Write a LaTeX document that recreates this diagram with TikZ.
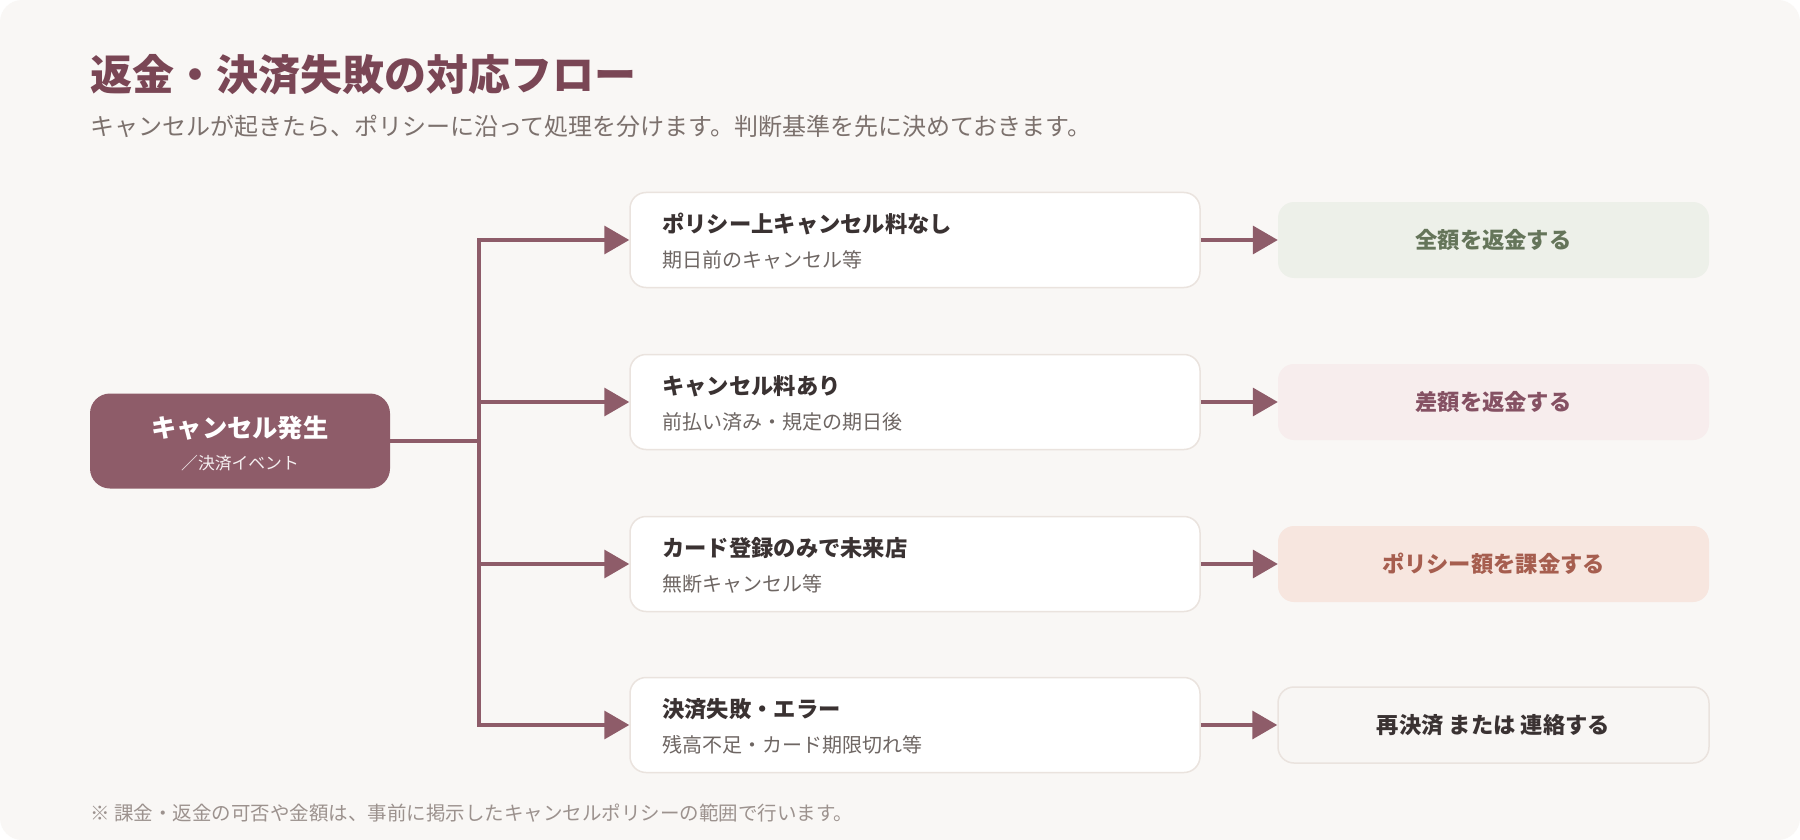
\documentclass[tikz,border=0pt]{standalone}
\usepackage{fontspec}
\setmainfont{Noto Sans CJK JP}
\newfontfamily\jp{Noto Sans CJK JP}
\usetikzlibrary{arrows.meta}
\definecolor{bgc}{HTML}{F9F7F5}
\definecolor{plum}{HTML}{8E5C69}
\definecolor{titlec}{HTML}{7A4655}
\definecolor{subc}{HTML}{7C716D}
\definecolor{notec}{HTML}{9C928E}
\definecolor{boxborder}{HTML}{EAE3DE}
\definecolor{darktxt}{HTML}{3A3232}
\definecolor{greytxt}{HTML}{6E6663}
\definecolor{greenfill}{HTML}{EDF0E9}
\definecolor{greentxt}{HTML}{65755A}
\definecolor{pinkfill}{HTML}{F7EDED}
\definecolor{pinktxt}{HTML}{855163}
\definecolor{orangefill}{HTML}{F7E6DF}
\definecolor{orangetxt}{HTML}{A65E4F}
\definecolor{lastfill}{HTML}{F8F6F4}
\tikzset{
  casebox/.style={draw=boxborder, line width=1.5pt, fill=white, rounded corners=16pt, minimum width=570pt, minimum height=95pt, inner sep=0pt},
  resbox/.style={rounded corners=16pt, minimum width=431pt, minimum height=76pt, inner sep=0pt, font=\jp\bfseries\fontsize{22.3}{26}\selectfont},
  casetitle/.style={anchor=west, inner sep=0pt, text=darktxt, font=\jp\bfseries\fontsize{22.3}{26}\selectfont},
  casesub/.style={anchor=west, inner sep=0pt, text=greytxt, font=\jp\fontsize{20}{24}\selectfont},
  flow/.style={draw=plum, line width=3.5pt},
  arr/.style={flow, -{Triangle[length=25pt,width=28pt]}},
}
\begin{document}
\begin{tikzpicture}[x=1pt,y=-1pt]
\fill[white] (0,0) rectangle (1800,840);
\fill[bgc, rounded corners=22pt] (0,0) rectangle (1800,840);
\useasboundingbox (0,0) rectangle (1800,840);

\node[anchor=west, inner sep=0pt, text=titlec, font=\jp\bfseries\fontsize{42}{50}\selectfont] (title) at (90,75) {返金・決済失敗の対応フロー};
\node[anchor=west, inner sep=0pt, text=subc, font=\jp\fontsize{24}{28}\selectfont] (subtitle) at (90,126) {キャンセルが起きたら、ポリシーに沿って処理を分けます。判断基準を先に決めておきます。};

\node[fill=plum, rounded corners=20pt, minimum width=300pt, minimum height=95pt, inner sep=0pt] (start) at (240,441) {};
\node[inner sep=0pt, text=white, font=\jp\bfseries\fontsize{25.3}{30}\selectfont] (starta) at (240,428) {キャンセル発生};
\node[inner sep=0pt, text=white!90!plum, font=\jp\fontsize{16.8}{20}\selectfont] (startb) at (240,463) {／決済イベント};

\coordinate (jn) at (479,441);
\coordinate (t1) at (479,240);
\coordinate (t2) at (479,402);
\coordinate (t3) at (479,564);
\coordinate (t4) at (479,725);

\node[casebox] (c1) at (915,240) {};
\node[casebox] (c2) at (915,402) {};
\node[casebox] (c3) at (915,564) {};
\node[casebox] (c4) at (915,725) {};

\node[casetitle] (c1t) at (662,224) {ポリシー上キャンセル料なし};
\node[casesub] (c1s) at (662,260) {期日前のキャンセル等};
\node[casetitle] (c2t) at (662,386) {キャンセル料あり};
\node[casesub] (c2s) at (662,422) {前払い済み・規定の期日後};
\node[casetitle] (c3t) at (662,548) {カード登録のみで未来店};
\node[casesub] (c3s) at (662,584) {無断キャンセル等};
\node[casetitle] (c4t) at (662,709) {決済失敗・エラー};
\node[casesub] (c4s) at (662,745) {残高不足・カード期限切れ等};

\node[resbox, fill=greenfill, text=greentxt] (r1) at (1493.5,240) {全額を返金する};
\node[resbox, fill=pinkfill, text=pinktxt] (r2) at (1493.5,402) {差額を返金する};
\node[resbox, fill=orangefill, text=orangetxt] (r3) at (1493.5,564) {ポリシー額を課金する};
\node[resbox, fill=lastfill, draw=boxborder, line width=1.5pt, text=darktxt] (r4) at (1493.5,725) {再決済 または 連絡する};

\draw[flow] (start.east) -- (jn);
\draw[flow, line cap=rect] (t1) -- (t4);
\draw[arr] (t1) -- (c1.west);
\draw[arr] (t2) -- (c2.west);
\draw[arr] (t3) -- (c3.west);
\draw[arr] (t4) -- (c4.west);
\draw[arr] (c1.east) -- (r1.west);
\draw[arr] (c2.east) -- (r2.west);
\draw[arr] (c3.east) -- (r3.west);
\draw[arr] (c4.east) -- (r4.west);

\node[anchor=west, inner sep=0pt, text=notec, font=\jp\fontsize{19.5}{23}\selectfont] (note) at (90,813) {※ 課金・返金の可否や金額は、事前に掲示したキャンセルポリシーの範囲で行います。};
\end{tikzpicture}
\end{document}
